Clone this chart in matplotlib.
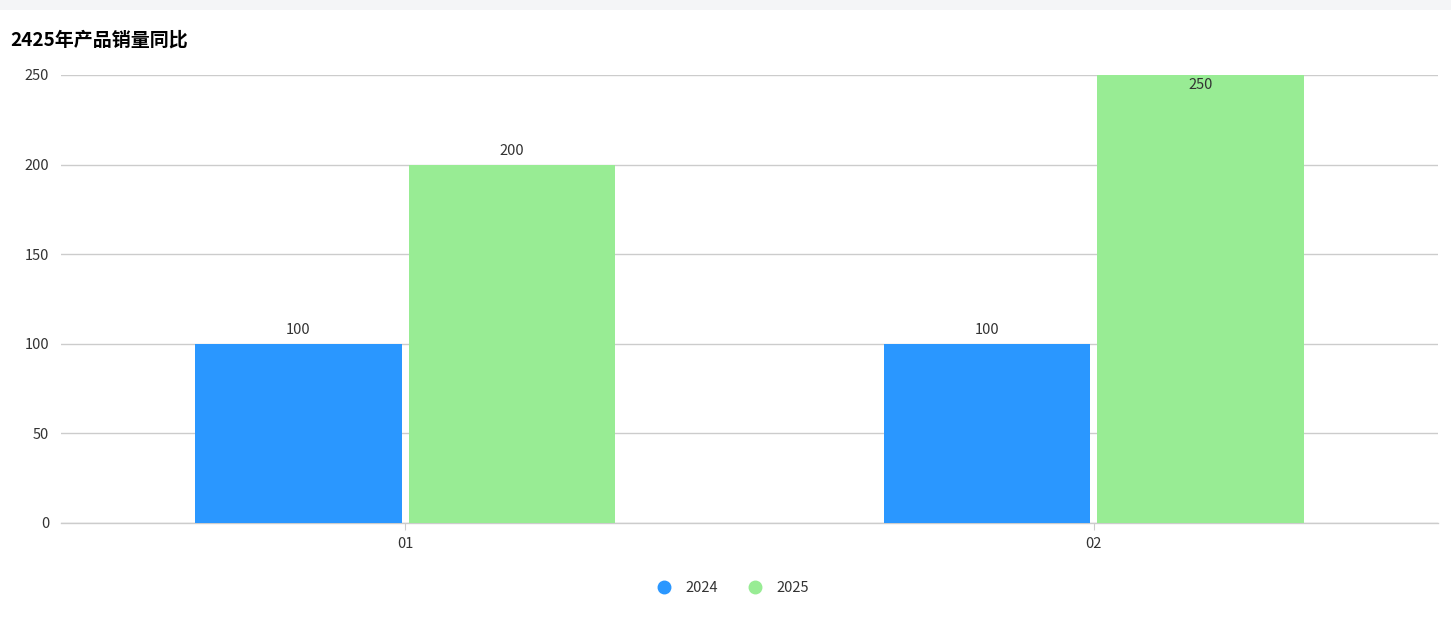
import numpy as np
import matplotlib.pyplot as plt
from matplotlib.lines import Line2D

plt.rcParams['font.family'] = ['Noto Sans CJK SC', 'DejaVu Sans']

# data
categories = ['01', '02']
series_names = ['2024', '2025']
sales_2024 = [100, 100]
sales_2025 = [200, 250]
y_ticks = [0, 50, 100, 150, 200, 250]
title = '2425年产品销量同比'

colors = ['#2a97ff', '#98ec94']
text_color = '#333333'
grid_color = '#cccccc'
fs = 10.5

fig = plt.figure(figsize=(14.51, 6.24), dpi=100)
fig.patch.set_facecolor('white')

# light strip across the top
fig.patches.append(plt.Rectangle((0, 1 - 10 / 624), 1, 10 / 624, transform=fig.transFigure,
                                 facecolor='#f4f5f7', edgecolor='none', zorder=0))

ax = fig.add_axes([61 / 1451, 101 / 624, (1438 - 61) / 1451, 448 / 624])

x = np.arange(len(categories))
width = 0.3
offset = 0.155
ymax = y_ticks[-1]

for i, (vals, color) in enumerate(zip([sales_2024, sales_2025], colors)):
    pos = x + (offset if i else -offset)
    bars = ax.bar(pos, vals, width=width, color=color, zorder=3)
    for b, v in zip(bars, vals):
        cx = b.get_x() + b.get_width() / 2
        if v >= ymax:
            # no room above the bar, label sits just inside
            ax.annotate(str(v), (cx, v), xytext=(0, -2), textcoords='offset points',
                        ha='center', va='top', fontsize=fs, color=text_color, zorder=4)
        else:
            ax.annotate(str(v), (cx, v), xytext=(0, 5), textcoords='offset points',
                        ha='center', va='bottom', fontsize=fs, color=text_color, zorder=4)

ax.set_xlim(-0.5, len(categories) - 0.5)
ax.set_ylim(0, ymax)
ax.set_yticks(y_ticks)
ax.set_xticks(x)
ax.set_xticklabels(categories)

ax.yaxis.grid(True, color=grid_color, linewidth=1, zorder=0)
ax.set_axisbelow(True)
for side in ['top', 'right', 'left']:
    ax.spines[side].set_visible(False)
ax.spines['bottom'].set_color(grid_color)
ax.spines['bottom'].set_linewidth(1)

ax.tick_params(axis='y', length=0, pad=8.5, labelsize=fs, labelcolor=text_color)
ax.tick_params(axis='x', length=5, color=grid_color, pad=5, labelsize=fs, labelcolor=text_color)

fig.text(10 / 1451, 1 - 40 / 624, title, fontsize=13.7, fontweight='bold', color='black',
         ha='left', va='center')

handles = [Line2D([], [], marker='o', linestyle='none', markersize=9, markerfacecolor=c,
                  markeredgecolor=c) for c in colors]
fig.legend(handles, series_names, loc='center', bbox_to_anchor=(729 / 1451, 1 - 588 / 624),
           ncol=2, frameon=False, fontsize=fs, handletextpad=0.5, columnspacing=1.5,
           labelcolor=text_color)

fig.savefig('out.png', dpi=100, facecolor='white')
